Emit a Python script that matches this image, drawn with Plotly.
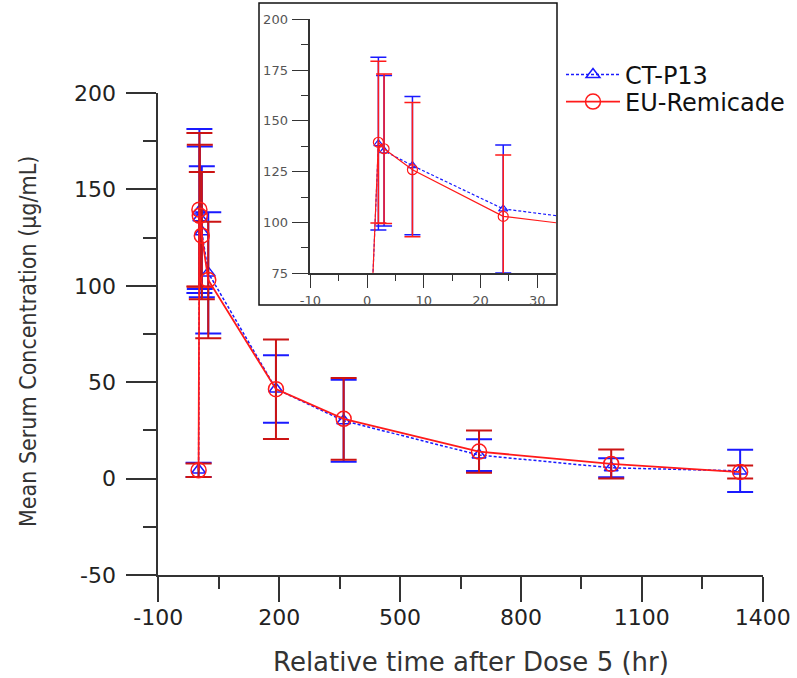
import plotly.graph_objects as go

# Mean serum concentration after dose 5 (time in hours)
time_hr = [0, 2, 3, 8, 24, 192, 360, 696, 1024, 1344]
ctp13_mean = [4.5, 138.8, 135.3, 128.0, 106.7, 46.5, 30.0, 12.2, 5.6, 4.0]
ctp13_sd = [3.7, 42.5, 37.0, 34.0, 31.5, 17.5, 21.3, 8.2, 4.9, 11.0]
remicade_mean = [4.3, 139.5, 136.3, 126.0, 103.0, 46.4, 31.0, 14.0, 7.6, 3.4]
remicade_sd = [3.5, 39.8, 36.8, 33.0, 30.2, 25.8, 21.2, 11.0, 7.5, 3.4]

main_x_ticks = [-100, 200, 500, 800, 1100, 1400]
main_y_ticks = [-50, 0, 50, 100, 150, 200]
inset_x_ticks = [-10, 0, 10, 20, 30]
inset_y_ticks = [75, 100, 125, 150, 175, 200]

W, H = 797, 678
BLUE = "#1a1aff"
RED = "#ff1a1a"
RED_DARK = "#cc1414"
AXIS = "#333333"


def px_x(p):
    return p / W


def px_y(p):
    return 1 - p / H


fig = go.Figure()

# main panel
fig.add_trace(go.Scatter(
    x=time_hr, y=ctp13_mean, name="CT-P13", mode="lines+markers", legend="legend",
    line=dict(color=BLUE, width=1.5, dash="3px,2px"),
    marker=dict(symbol="triangle-up-open", size=12, color=BLUE, line=dict(width=1.5)),
    error_y=dict(type="data", array=ctp13_sd, visible=True, color=BLUE, thickness=2, width=13),
    xaxis="x", yaxis="y",
))
fig.add_trace(go.Scatter(
    x=time_hr, y=remicade_mean, name="EU-Remicade", mode="lines+markers", legend="legend2",
    line=dict(color=RED, width=1.8),
    marker=dict(symbol="circle-open", size=15, color=RED, line=dict(width=1.5)),
    error_y=dict(type="data", array=remicade_sd, visible=True, color=RED_DARK, thickness=2, width=13),
    xaxis="x", yaxis="y",
))

# zoomed panel of the first 30 hours
fig.add_trace(go.Scatter(
    x=time_hr, y=ctp13_mean, name="CT-P13", mode="lines+markers", showlegend=False,
    line=dict(color=BLUE, width=1.2, dash="3px,2px"),
    marker=dict(symbol="triangle-up-open", size=8, color=BLUE, line=dict(width=1.2)),
    error_y=dict(type="data", array=ctp13_sd, visible=True, color=BLUE, thickness=1.5, width=8),
    xaxis="x2", yaxis="y2",
))
fig.add_trace(go.Scatter(
    x=time_hr, y=remicade_mean, name="EU-Remicade", mode="lines+markers", showlegend=False,
    line=dict(color=RED, width=1.2),
    marker=dict(symbol="circle-open", size=10, color=RED, line=dict(width=1.2)),
    error_y=dict(type="data", array=remicade_sd, visible=True, color=RED, thickness=1.5, width=8),
    xaxis="x2", yaxis="y2",
))

tick_font = dict(family="DejaVu Sans", size=22, color="#222222")
inset_font = dict(family="DejaVu Sans", size=13, color="#555555")
legend_font = dict(family="DejaVu Sans", size=24, color="#111111")

fig.update_layout(
    width=W, height=H, autosize=False,
    margin=dict(l=0, r=0, t=0, b=0, autoexpand=False),
    paper_bgcolor="white", plot_bgcolor="rgba(0,0,0,0)",
    xaxis=dict(
        domain=[px_x(158.3), px_x(762.7)], range=[-100, 1400], automargin=False,
        tickmode="array", tickvals=main_x_ticks, ticktext=[str(v) for v in main_x_ticks],
        ticks="outside", ticklen=25, tickwidth=1.5, tickcolor=AXIS,
        minor=dict(ticks="outside", ticklen=12, tickwidth=1.5, tickcolor=AXIS, dtick=150, tick0=-100),
        showline=True, linewidth=2, linecolor=AXIS, showgrid=False, zeroline=False,
        tickfont=tick_font, ticklabelstandoff=-3,
    ),
    yaxis=dict(
        domain=[px_y(575), px_y(93)], range=[-50, 200], automargin=False,
        tickmode="array", tickvals=main_y_ticks, ticktext=[str(v) for v in main_y_ticks],
        ticks="outside", ticklen=30, tickwidth=1.5, tickcolor=AXIS,
        minor=dict(ticks="outside", ticklen=13, tickwidth=1.5, tickcolor=AXIS, dtick=25, tick0=-50),
        showline=True, linewidth=2, linecolor=AXIS, showgrid=False, zeroline=False,
        tickfont=tick_font, ticklabelstandoff=6,
    ),
    xaxis2=dict(
        domain=[px_x(310.3), px_x(556)], range=[-10, 33.3], anchor="y2", automargin=False,
        tickmode="array", tickvals=inset_x_ticks, ticktext=[str(v) for v in inset_x_ticks],
        ticks="outside", ticklen=13, tickwidth=1.2, tickcolor=AXIS,
        minor=dict(ticks="outside", ticklen=6, tickwidth=1.2, tickcolor=AXIS, dtick=5, tick0=-10),
        showline=True, linewidth=1.5, linecolor=AXIS, showgrid=False, zeroline=False,
        tickfont=inset_font, ticklabelstandoff=1,
    ),
    yaxis2=dict(
        domain=[px_y(273.3), px_y(19.3)], range=[75, 200], anchor="x2", automargin=False,
        tickmode="array", tickvals=inset_y_ticks, ticktext=[str(v) for v in inset_y_ticks],
        ticks="outside", ticklen=17, tickwidth=1.2, tickcolor=AXIS,
        minor=dict(ticks="outside", ticklen=8, tickwidth=1.2, tickcolor=AXIS, dtick=12.5, tick0=75),
        showline=True, linewidth=1.5, linecolor=AXIS, showgrid=False, zeroline=False,
        tickfont=inset_font, ticklabelstandoff=1,
    ),
    legend=dict(
        x=px_x(561), y=px_y(75), xanchor="left", yanchor="middle",
        font=legend_font, bgcolor="rgba(0,0,0,0)", borderwidth=0, itemwidth=54,
    ),
    legend2=dict(
        x=px_x(561), y=px_y(102), xanchor="left", yanchor="middle",
        font=legend_font, bgcolor="rgba(0,0,0,0)", borderwidth=0, itemwidth=54,
    ),
    showlegend=True,
    shapes=[dict(
        type="rect", xref="paper", yref="paper",
        x0=px_x(259), x1=px_x(557), y0=px_y(305), y1=px_y(3),
        line=dict(color="#111111", width=1.5), fillcolor="white", layer="below",
    )],
    annotations=[
        dict(
            text="Mean Serum Concentration (µg/mL)", xref="paper", yref="paper",
            x=px_x(28), y=px_y(342), xanchor="center", yanchor="middle",
            textangle=-90, showarrow=False,
            font=dict(family="DejaVu Sans Condensed, Liberation Sans Narrow, sans-serif", size=23, color="#333333"),
        ),
        dict(
            text="Relative time after Dose 5 (hr)", xref="paper", yref="paper",
            x=px_x(471), y=px_y(662), xanchor="center", yanchor="middle",
            showarrow=False,
            font=dict(family="DejaVu Sans", size=26, color="#333333"),
        ),
    ],
)

fig.write_html("out.html")
